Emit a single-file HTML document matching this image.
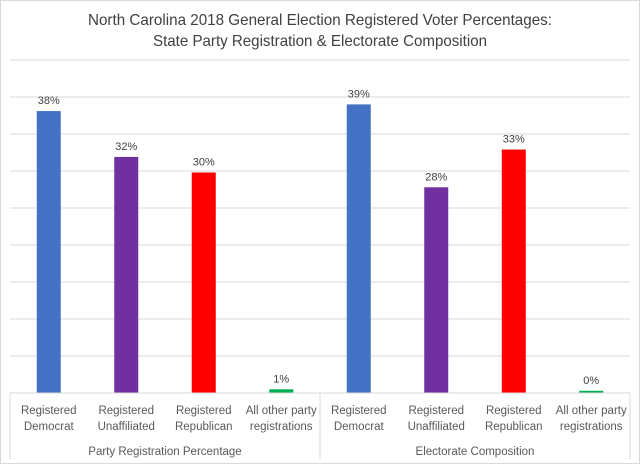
<!DOCTYPE html>
<html><head><meta charset="utf-8"><style>
html,body{margin:0;padding:0;background:#fff}
svg{display:block;font-family:"Liberation Sans",sans-serif}
</style></head><body>
<svg id="chart" width="640" height="464" viewBox="0 0 640 464">
<rect x="0.5" y="0.5" width="639" height="463" fill="#fff" stroke="#d9d9d9"/>
<text x="320" y="25" text-anchor="middle" font-size="16" fill="#404040" textLength="464" lengthAdjust="spacingAndGlyphs">North Carolina 2018 General Election Registered Voter Percentages:</text>
<text x="320" y="46" text-anchor="middle" font-size="16" fill="#404040" textLength="334" lengthAdjust="spacingAndGlyphs">State Party Registration &amp; Electorate Composition</text>
<g id="grid"></g><g id="bars"></g><g id="axis"></g>
</svg>
<script>
const line1 = ["Registered","Registered","Registered","All other party","Registered","Registered","Registered","All other party"];
const line2 = ["Democrat","Unaffiliated","Republican","registrations","Democrat","Unaffiliated","Republican","registrations"];
const values = [38.1, 31.9, 29.8, 0.5, 39.0, 27.8, 32.9, 0.3];
const labels = ["38%","32%","30%","1%","39%","28%","33%","0%"];
const colors = ["#4472c4","#7030a0","#ff0000","#00b050","#4472c4","#7030a0","#ff0000","#00b050"];
const groups = ["Party Registration Percentage","Electorate Composition"];
const yTicks = [0,5,10,15,20,25,30,35,40,45];
const NS="http://www.w3.org/2000/svg";
const L=10,R=630,T=60,B=393,MAX=45;
const y=v=>B-(v/MAX)*(B-T);
const bw=(R-L)/values.length;
const x=i=>L+bw*(i+0.5);
function mk(tag,attrs,parent,txt){const e=document.createElementNS(NS,tag);for(const k in attrs)e.setAttribute(k,attrs[k]);if(txt!=null)e.textContent=txt;parent.appendChild(e);return e;}
const grid=document.getElementById('grid'),bars=document.getElementById('bars'),axis=document.getElementById('axis');
yTicks.forEach(t=>{if(t===0)return;const g=mk('line',{x1:L,x2:R,y1:y(t),y2:y(t),stroke:'#d9d9d9','stroke-width':1},grid);

});
values.forEach((v,i)=>{
 const r=mk('rect',{x:x(i)-12,y:y(v),width:24,height:Math.max(B-y(v),1.5),fill:colors[i]},bars);
 
 
 const t=mk('text',{x:x(i),y:y(v)-7,'text-anchor':'middle','font-size':11,fill:'#404040'},bars,labels[i]);
 
 
 const a=mk('text',{x:x(i),y:414,'text-anchor':'middle','font-size':11.5,fill:'#595959'},axis,line1[i]);
 
 
 const b=mk('text',{x:x(i),y:430,'text-anchor':'middle','font-size':11.5,fill:'#595959'},axis,line2[i]);
 
 
});
const base=mk('line',{x1:L,x2:R,y1:B,y2:B,stroke:'#d9d9d9'},axis);


[L,(L+R)/2,R].forEach(px=>{const l=mk('line',{x1:px,x2:px,y1:B,y2:459,stroke:'#d9d9d9'},axis);

});
groups.forEach((g,gi)=>{const t=mk('text',{x:L+(R-L)/4*(1+2*gi),y:455,'text-anchor':'middle','font-size':11.5,fill:'#595959'},axis,g);

});
</script>
</body></html>
